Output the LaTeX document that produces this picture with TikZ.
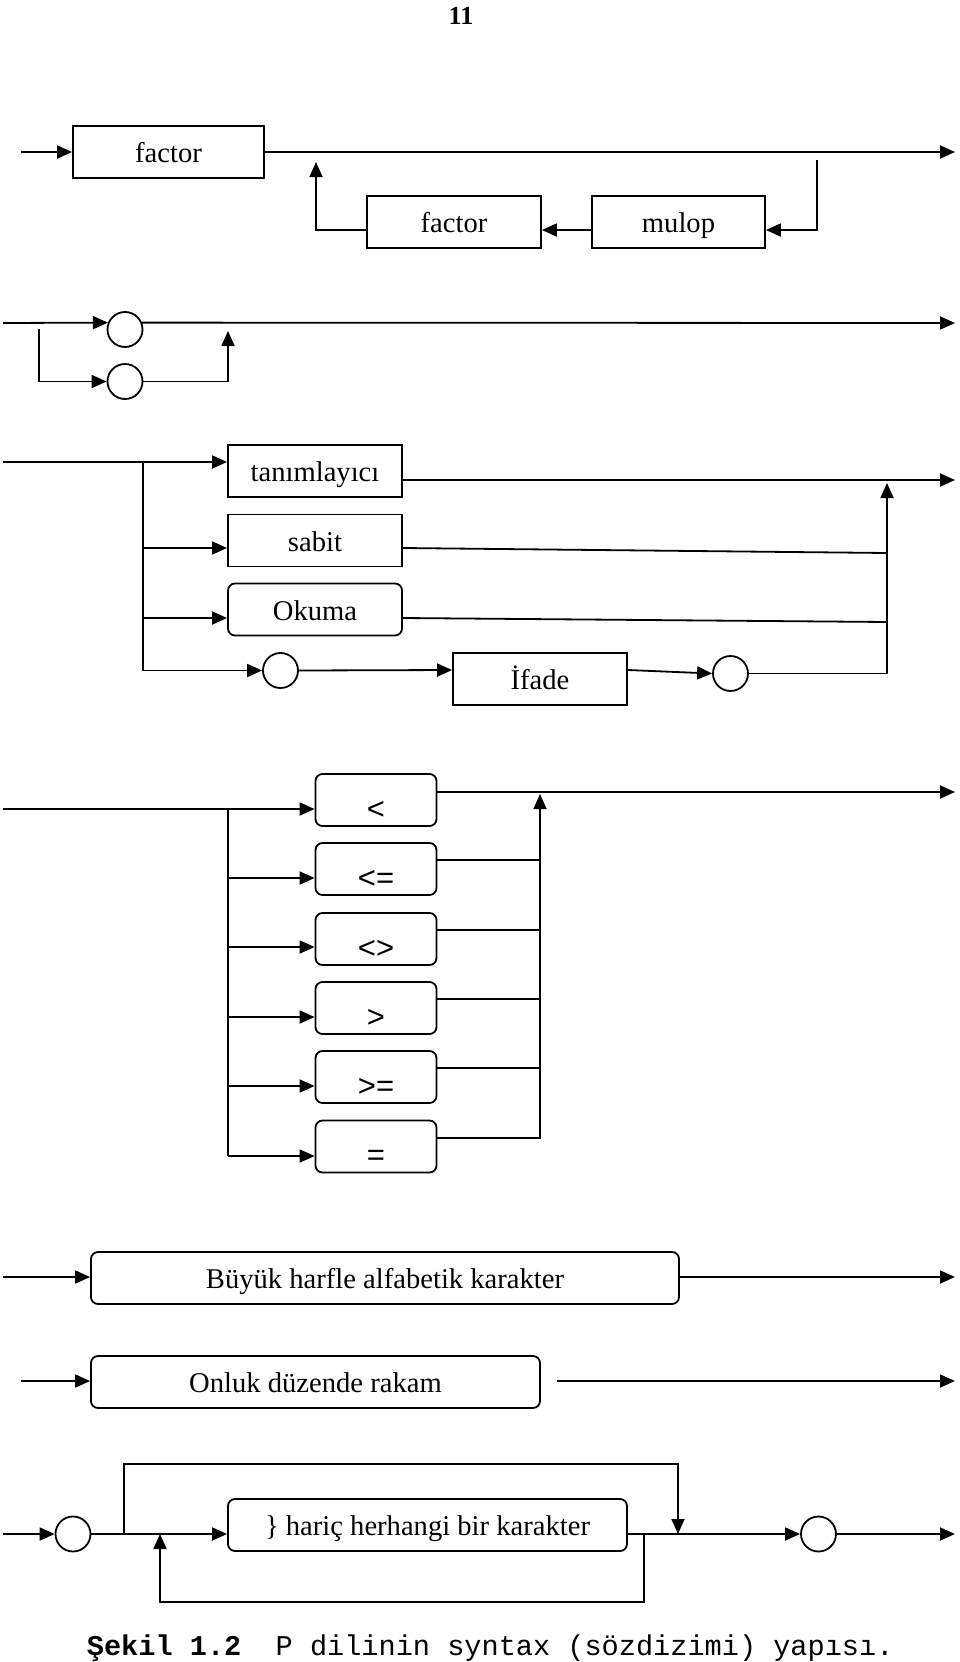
\documentclass[tikz,border=0pt]{standalone}
\usepackage{fontspec}
\setmainfont{Liberation Serif}
\newfontfamily\relfont{Liberation Sans}
\newfontfamily\capfont{Liberation Mono}
\usetikzlibrary{arrows.meta,shapes.geometric}
\begin{document}
\begin{tikzpicture}[x=1pt,y=-1pt,line width=1.8pt,
  arr/.style={-{Triangle[length=15pt,width=13pt]}},
  sq/.style={draw, rectangle, minimum height=52pt, inner sep=0pt,
    font=\fontsize{28.6}{30}\selectfont, text height=21pt, text depth=0pt},
  rnd/.style={sq, rounded corners=7pt},
  rel/.style={draw, rectangle, rounded corners=7pt, minimum width=121pt, minimum height=52pt,
    inner sep=0pt, font=\relfont\fontsize{31}{33}\selectfont, text height=38pt, text depth=0pt},
  circ/.style={draw, circle, minimum size=35pt, inner sep=0pt}]
\useasboundingbox (0,0) rectangle (960,1662);

% page number
\node[font=\bfseries\fontsize{26}{28}\selectfont] (pg) at (461,15.5) {11};

% ---------- section 1 ----------
\coordinate (s1in) at (21,152);
\coordinate (s1out) at (955,152);
\node[sq, minimum width=191pt] (f1) at (168.5,152) {factor};
\node[sq, minimum width=174pt] (f2) at (454,222) {factor};
\node[sq, minimum width=173pt] (mul) at (678.5,222) {mulop};
\coordinate (s1a) at (817,160);
\coordinate (s1b) at (316,162);
\draw[arr] (s1in) -- (f1.west);
\draw[arr] (f1.east) -- (s1out);
\draw[arr] (s1a) |- (mul.east |- 0,230);
\draw[arr] (mul.west |- 0,230) -- (f2.east |- 0,230);
\draw[arr] (f2.west |- 0,230) -| (s1b);

% ---------- section 2 ----------
\node[circ] (c1) at (125,329.5) {};
\node[circ] (c2) at (125,381.5) {};
\coordinate (s2in) at (3,323);
\coordinate (s2out) at (955,323);
\coordinate (s2br) at (39,329);
\coordinate (s2up) at (228,331);
\draw[arr] (s2in) -- (c1.158);
\draw[arr] (c1.22) -- (s2out);
\draw[arr] (s2br) |- (c2.west);
\draw[arr] (c2.east) -| (s2up);

% ---------- section 3 ----------
\node[sq, minimum width=174pt] (tan) at (315,471) {tanımlayıcı};
\node[sq, minimum width=174pt] (sab) at (315,540.5) {sabit};
\node[rnd, minimum width=174pt] (oku) at (315,609.5) {Okuma};
\node[circ] (c3a) at (280.5,670.5) {};
\node[sq, minimum width=174pt] (ifa) at (540,679) {İfade};
\node[circ] (c3b) at (730.5,673.5) {};
\coordinate (s3in) at (3,462);
\coordinate (s3br) at (143,462);
\coordinate (s3out) at (955,480);
\coordinate (s3up) at (887,483);
\coordinate (s3j1) at (887,553);
\coordinate (s3j2) at (887,622);
\draw[arr] (s3in) -- (tan.west |- 0,462);
\draw[arr] (s3br) |- (c3a.west);
\draw[arr] (143,548) -- (sab.west |- 0,548);
\draw[arr] (143,618) -- (oku.west |- 0,618);
\draw[arr] (c3a.east) -- (ifa.west |- 0,670);
\draw[arr] (ifa.east |- 0,670) -- (c3b.west);
\draw[arr] (c3b.east) -| (s3up);
\draw[arr] (tan.east |- 0,480) -- (s3out);
\draw (sab.east |- 0,548) -- (s3j1);
\draw (oku.east |- 0,618) -- (s3j2);

% ---------- section 4 ----------
\node[rel] (r1) at (376,800) {<};
\node[rel] (r2) at (376,869) {<=};
\node[rel] (r3) at (376,939) {<>};
\node[rel] (r4) at (376,1008) {>};
\node[rel] (r5) at (376,1077) {>=};
\node[rel] (r6) at (376,1146.5) {=};
\coordinate (s4in) at (3,809);
\coordinate (s4br) at (228,809);
\coordinate (s4out) at (955,792);
\coordinate (s4up) at (540,794);
\draw[arr] (s4in) -- (r1.west |- 0,809);
\draw (s4br) -- (228,1156);
\draw[arr] (228,878) -- (r2.west |- 0,878);
\draw[arr] (228,947) -- (r3.west |- 0,947);
\draw[arr] (228,1017) -- (r4.west |- 0,1017);
\draw[arr] (228,1086) -- (r5.west |- 0,1086);
\draw[arr] (228,1156) -- (r6.west |- 0,1156);
\draw[arr] (r1.east |- 0,792) -- (s4out);
\draw[arr] (r6.east |- 0,1138) -| (s4up);
\draw (r2.east |- 0,860) -- (540,860);
\draw (r3.east |- 0,930) -- (540,930);
\draw (r4.east |- 0,999) -- (540,999);
\draw (r5.east |- 0,1068) -- (540,1068);

% ---------- section 5 ----------
\node[rnd, minimum width=588pt] (buy) at (385,1278) {Büyük harfle alfabetik karakter};
\node[rnd, minimum width=449pt] (onl) at (315.5,1382) {Onluk düzende rakam};
\coordinate (s5in) at (3,1277);
\coordinate (s5out) at (955,1277);
\coordinate (s6in) at (21,1381);
\coordinate (s6a) at (557,1381);
\coordinate (s6out) at (955,1381);
\draw[arr] (s5in) -- (buy.west |- 0,1277);
\draw[arr] (buy.east |- 0,1277) -- (s5out);
\draw[arr] (s6in) -- (onl.west |- 0,1381);
\draw[arr] (s6a) -- (s6out);

% ---------- section 6 ----------
\node[circ] (c6a) at (73,1534) {};
\node[rnd, minimum width=399pt] (har) at (427.5,1525) {\} hariç herhangi bir karakter};
\node[circ] (c6b) at (818.5,1534) {};
\coordinate (s7in) at (3,1534);
\coordinate (s7out) at (955,1534);
\coordinate (byl) at (124,1534);
\coordinate (byr) at (678,1534);
\coordinate (lpr) at (644,1534);
\coordinate (lpl) at (160,1534);
\draw[arr] (s7in) -- (c6a.west);
\draw[arr] (c6a.east) -- (har.west |- 0,1534);
\draw[arr] (har.east |- 0,1534) -- (c6b.west);
\draw[arr] (c6b.east) -- (s7out);
\draw[arr] (byl) |- (678,1464) -- (byr);
\draw[arr] (lpr) |- (160,1602) -- (lpl);

% caption
\node[anchor=base west, inner sep=0pt, font=\capfont\fontsize{28.6}{30}\selectfont] (cap) at (86,1655)
  {\textbf{Şekil 1.2}\ \ P dilinin syntax (sözdizimi) yapısı.};
\end{tikzpicture}
\end{document}
